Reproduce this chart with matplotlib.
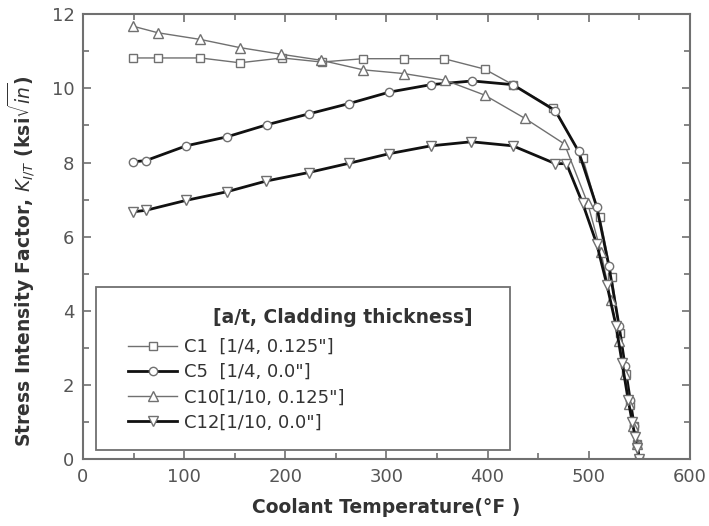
import matplotlib
matplotlib.use('Agg')
import matplotlib.pyplot as plt
from matplotlib.ticker import MultipleLocator
from matplotlib.patches import Rectangle

# C1 [1/4, 0.125"]
c1_t = [49, 74, 116, 155, 197, 236, 277, 317, 357, 397, 425, 465, 494, 511, 523, 531, 537, 541, 545, 548, 550]
c1_k = [10.82, 10.82, 10.82, 10.69, 10.82, 10.71, 10.8, 10.8, 10.8, 10.52, 10.1, 9.46, 8.13, 6.53, 4.9, 3.4, 2.3, 1.5, 0.9, 0.4, 0.0]
# C5 [1/4, 0.0"]
c5_t = [49, 62, 102, 142, 182, 223, 263, 303, 344, 385, 425, 467, 490, 508, 520, 530, 536, 541, 545, 548, 550]
c5_k = [8.02, 8.05, 8.45, 8.69, 9.02, 9.31, 9.59, 9.9, 10.1, 10.2, 10.1, 9.4, 8.3, 6.8, 5.2, 3.6, 2.5, 1.6, 0.9, 0.4, 0.0]
# C10 [1/10, 0.125"]
c10_t = [49, 74, 116, 155, 196, 235, 277, 317, 358, 397, 437, 476, 499, 512, 522, 530, 536, 540, 544, 548, 550]
c10_k = [11.68, 11.5, 11.32, 11.1, 10.92, 10.76, 10.5, 10.4, 10.22, 9.82, 9.19, 8.5, 6.9, 5.6, 4.3, 3.2, 2.3, 1.5, 0.9, 0.4, 0.0]
# C12 [1/10, 0.0"]
c12_t = [49, 62, 102, 142, 181, 223, 263, 303, 344, 384, 425, 467, 478, 494, 508, 518, 527, 533, 539, 543, 546, 548, 550]
c12_k = [6.67, 6.71, 6.98, 7.21, 7.5, 7.73, 7.98, 8.24, 8.45, 8.56, 8.45, 7.97, 7.97, 6.9, 5.8, 4.7, 3.6, 2.6, 1.6, 1.0, 0.6, 0.3, 0.0]

labels = ['C1  [1/4, 0.125"]', 'C5  [1/4, 0.0"]', 'C10[1/10, 0.125"]', 'C12[1/10, 0.0"]']
leg_title = '[a/t, Cladding thickness]'

plt.rcParams['font.family'] = ['DejaVu Sans']
plt.rcParams['mathtext.fontset'] = 'dejavusans'

fig = plt.figure(figsize=(7.09, 5.26), dpi=100)
ax = fig.add_axes([0.117, 0.127, 0.856, 0.846])

grey = '#707070'
ax.plot(c1_t, c1_k, color=grey, lw=1.0, marker='s', ms=6, mfc='white', mec=grey, mew=1.0, label=labels[0])
ax.plot(c5_t, c5_k, color='#111111', lw=2.0, marker='o', ms=6, mfc='white', mec=grey, mew=1.0, label=labels[1])
ax.plot(c10_t, c10_k, color=grey, lw=1.0, marker='^', ms=7, mfc='white', mec=grey, mew=1.0, label=labels[2])
ax.plot(c12_t, c12_k, color='#111111', lw=2.0, marker='v', ms=7, mfc='white', mec=grey, mew=1.0, label=labels[3])

ax.set_xlim(0, 600)
ax.set_ylim(0, 12)
ax.xaxis.set_major_locator(MultipleLocator(100))
ax.xaxis.set_minor_locator(MultipleLocator(50))
ax.yaxis.set_major_locator(MultipleLocator(2))
ax.yaxis.set_minor_locator(MultipleLocator(1))
ax.tick_params(which='both', direction='in', top=True, right=True, color=grey, width=1.2)
ax.tick_params(which='major', length=6, labelsize=13, labelcolor='#555555', pad=6)
ax.tick_params(which='minor', length=4)
for s in ax.spines.values():
    s.set_color(grey)
    s.set_linewidth(1.5)

ax.set_xlabel('Coolant Temperature(\u00b0F )', fontsize=13.5, fontweight='bold', color='#333333', labelpad=9)
ax.set_ylabel(r'Stress Intensity Factor, $K_{I/T}$ (ksi$\sqrt{in}$)', fontsize=13.5,
              fontweight='bold', color='#333333', labelpad=10)
ax.yaxis.label.set_y(0.445)

# legend box and title drawn by hand, entries by legend
ax.add_patch(Rectangle((0.021, 0.02), 0.682, 0.367, transform=ax.transAxes, fill=True,
                       facecolor='white', edgecolor=grey, lw=1.3, zorder=4))
ax.text(0.214, 0.319, leg_title, transform=ax.transAxes, fontsize=13.5, fontweight='bold',
        color='#333333', va='center', ha='left', zorder=5)
leg = ax.legend(loc='lower left', bbox_to_anchor=(0.075, 0.062), fontsize=13, frameon=False,
                handlelength=2.7, handletextpad=0.35, borderaxespad=0, borderpad=0,
                labelspacing=0.4)
leg.set_zorder(6)
for t in leg.get_texts():
    t.set_color('#333333')

fig.savefig('out.png', dpi=100)
